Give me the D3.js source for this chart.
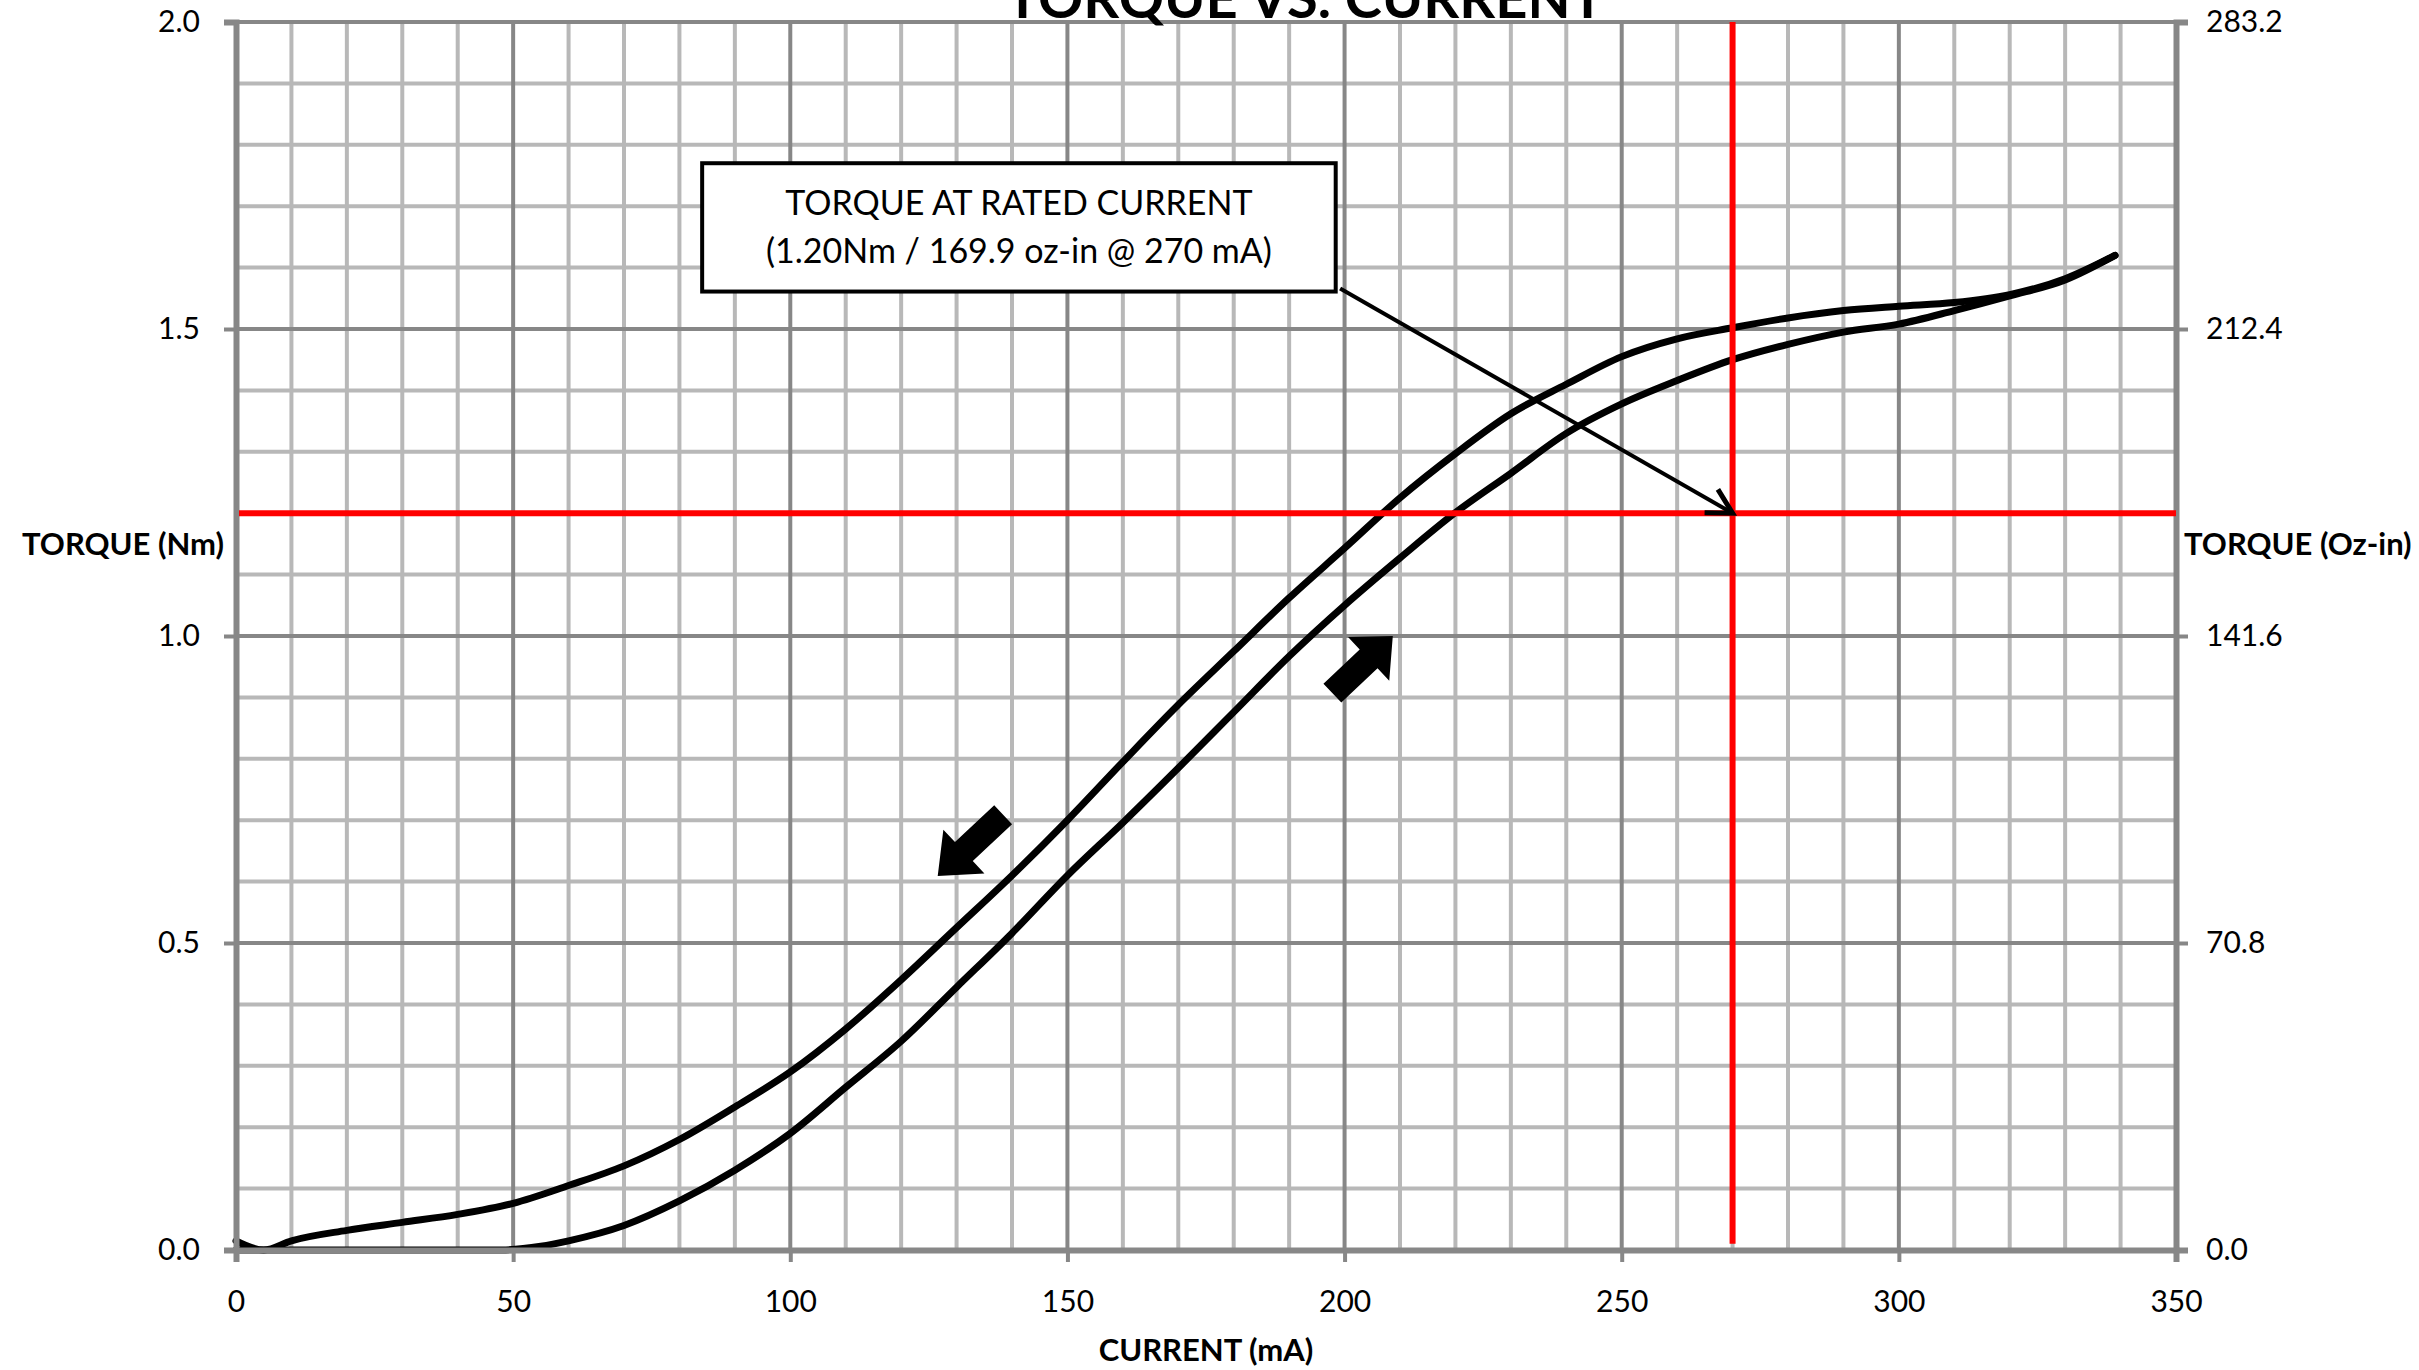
<!DOCTYPE html>
<html>
<head>
<meta charset="utf-8">
<script src="https://cdn.jsdelivr.net/npm/d3@7"></script>
<style>
  body { margin: 0; background: #fff; }
  svg { display: block; font-family: Lato, "Open Sans", sans-serif; }
</style>
</head>
<body>
<svg width="2419" height="1370"></svg>
<script>
// current (mA) and torque (Nm)
var riseCurrent = [0, 10, 20, 30, 40, 48, 55, 60, 70, 80, 90, 100, 110, 120, 130, 140, 150, 160, 170, 180, 190, 200, 210, 220, 230, 240, 250, 260, 270, 280, 290, 300, 310, 320, 330, 339];
var riseTorque  = [0, 0, 0, 0, 0, 0, 0.006, 0.015, 0.04, 0.08, 0.13, 0.19, 0.265, 0.34, 0.428, 0.516, 0.61, 0.696, 0.785, 0.876, 0.967, 1.05, 1.127, 1.201, 1.265, 1.33, 1.378, 1.416, 1.45, 1.475, 1.495, 1.508, 1.53, 1.554, 1.58, 1.62];

var fallCurrent = [0, 5, 10, 20, 30, 40, 50, 60, 70, 80, 90, 100, 110, 120, 130, 140, 150, 160, 170, 180, 190, 200, 210, 220, 230, 240, 250, 260, 270, 280, 290, 300, 310, 320, 330, 339];
var fallTorque  = [0.015, 0, 0.015, 0.032, 0.045, 0.058, 0.076, 0.105, 0.137, 0.18, 0.233, 0.29, 0.36, 0.44, 0.525, 0.61, 0.70, 0.795, 0.888, 0.975, 1.062, 1.143, 1.225, 1.297, 1.362, 1.41, 1.455, 1.484, 1.502, 1.518, 1.53, 1.537, 1.543, 1.556, 1.582, 1.62];

var xTicks = [0, 50, 100, 150, 200, 250, 300, 350];
var yTicks = [0, 0.5, 1.0, 1.5, 2.0];
var ozTicks = [0, 70.8, 141.6, 212.4, 283.2];

var ratedCurrent = 270;
var ratedTorque = 1.2;

// annotation box corners [mA, Nm] and its text
var noteBox = [[84.1, 1.770], [198.4, 1.561]];
var noteLines = ['TORQUE AT RATED CURRENT', '(1.20Nm / 169.9 oz-in @ 270 mA)'];
var noteArrow = [[199.2, 1.566], [270, 1.2]];

// direction arrows: [tail, tip] in [mA, Nm]
var bigArrows = [
  [[197.8, 0.907], [208.7, 1.0]],
  [[138.4, 0.709], [126.6, 0.609]]
];

var svg = d3.select('svg');

var x = d3.scaleLinear().domain([0, 350]).range([236, 2176]);
var y = d3.scaleLinear().domain([0, 2]).range([1250, 22]);
var yOz = d3.scaleLinear().domain([0, 283.2]).range([1250, 22]);

var minorX = d3.range(10, 350, 10).filter(function(d) { return d % 50 != 0; });
var minorY = d3.range(1, 20).map(function(d) { return d / 10; }).filter(function(d) { return Math.round(d * 10) % 5 != 0; });

var grid = svg.append('g');
grid.selectAll('.hmin').data(minorY).enter().append('line')
  .attr('x1', x(0)).attr('x2', x(350))
  .attr('y1', d => y(d)).attr('y2', d => y(d))
  .attr('stroke', '#b8b8b8').attr('stroke-width', 4);
grid.selectAll('.vmin').data(minorX).enter().append('line')
  .attr('x1', d => x(d)).attr('x2', d => x(d))
  .attr('y1', y(0)).attr('y2', y(2))
  .attr('stroke', '#b8b8b8').attr('stroke-width', 4);
grid.selectAll('.hmaj').data(yTicks.slice(1)).enter().append('line')
  .attr('x1', x(0)).attr('x2', x(350))
  .attr('y1', d => y(d)).attr('y2', d => y(d))
  .attr('stroke', '#878787').attr('stroke-width', 4);
grid.selectAll('.vmaj').data(xTicks.slice(1)).enter().append('line')
  .attr('x1', d => x(d)).attr('x2', d => x(d))
  .attr('y1', y(0)).attr('y2', y(2))
  .attr('stroke', '#878787').attr('stroke-width', 4);

// data curves (under the axis lines, so the zero run hides behind the x axis)
var line = d3.line().x(d => x(d[0])).y(d => y(d[1])).curve(d3.curveMonotoneX);
var rise = d3.zip(riseCurrent, riseTorque);
var fall = d3.zip(fallCurrent, fallTorque);
svg.append('path').datum(rise).attr('d', line)
  .attr('fill', 'none').attr('stroke', '#000').attr('stroke-width', 7).attr('stroke-linejoin', 'round').attr('stroke-linecap', 'round');
svg.append('path').datum(fall).attr('d', line)
  .attr('fill', 'none').attr('stroke', '#000').attr('stroke-width', 7).attr('stroke-linejoin', 'round').attr('stroke-linecap', 'round');

// axes
var fmt = d3.format('.1f');
var gx = svg.append('g').attr('transform', 'translate(0,' + y(0) + ')')
  .call(d3.axisBottom(x).tickValues(xTicks).tickSize(12).tickPadding(29));
var gy = svg.append('g').attr('transform', 'translate(' + x(0) + ',0)')
  .call(d3.axisLeft(y).tickValues(yTicks).tickFormat(fmt).tickSize(12).tickPadding(24));
var gy2 = svg.append('g').attr('transform', 'translate(' + x(350) + ',0)')
  .call(d3.axisRight(yOz).tickValues(ozTicks).tickFormat(fmt).tickSize(12).tickPadding(18));

[gx, gy, gy2].forEach(function(g) {
  g.select('.domain').attr('stroke', '#878787').attr('stroke-width', 6);
  g.selectAll('.tick line').attr('stroke', '#878787').attr('stroke-width', 4);
  g.selectAll('.tick text').attr('fill', '#000').style('font-size', '30px').style('font-family', 'Lato, sans-serif');
});

// rated current / torque markers
svg.append('line')
  .attr('x1', x(0) + 3).attr('x2', x(350))
  .attr('y1', y(ratedTorque)).attr('y2', y(ratedTorque))
  .attr('stroke', '#ff0000').attr('stroke-width', 6);
svg.append('line')
  .attr('x1', x(ratedCurrent)).attr('x2', x(ratedCurrent))
  .attr('y1', y(2)).attr('y2', y(0.01))
  .attr('stroke', '#ff0000').attr('stroke-width', 6);

// annotation box
var bx = x(noteBox[0][0]), by = y(noteBox[0][1]);
var bw = x(noteBox[1][0]) - bx, bh = y(noteBox[1][1]) - by;
svg.append('rect').attr('x', bx).attr('y', by).attr('width', bw).attr('height', bh)
  .attr('fill', '#fff').attr('stroke', '#000').attr('stroke-width', 4);
svg.selectAll('.note').data(noteLines).enter().append('text')
  .attr('x', bx + bw / 2).attr('y', (d, i) => by + 52 + i * 48)
  .attr('text-anchor', 'middle').style('font-size', '34px').text(d => d);

// arrow from the box to the rated point
var ax1 = x(noteArrow[0][0]), ay1 = y(noteArrow[0][1]);
var ax2 = x(noteArrow[1][0]), ay2 = y(noteArrow[1][1]);
var ang = Math.atan2(ay2 - ay1, ax2 - ax1);
svg.append('line').attr('x1', ax1).attr('y1', ay1).attr('x2', ax2).attr('y2', ay2)
  .attr('stroke', '#000').attr('stroke-width', 4);
var hl = 28, ha = 0.5;
svg.append('path')
  .attr('d', 'M' + (ax2 - hl * Math.cos(ang - ha)) + ',' + (ay2 - hl * Math.sin(ang - ha)) +
    'L' + ax2 + ',' + ay2 +
    'L' + (ax2 - hl * Math.cos(ang + ha)) + ',' + (ay2 - hl * Math.sin(ang + ha)))
  .attr('fill', 'none').attr('stroke', '#000').attr('stroke-width', 5).attr('stroke-linejoin', 'miter');

// block arrows showing direction of travel
bigArrows.forEach(function(a) {
  var tx = x(a[0][0]), ty = y(a[0][1]), px = x(a[1][0]), py = y(a[1][1]);
  var len = Math.hypot(px - tx, py - ty);
  var deg = Math.atan2(py - ty, px - tx) * 180 / Math.PI;
  var hLen = len * 0.4, sw = 13, hw = 30;
  var pts = [[0, -sw], [len - hLen, -sw], [len - hLen, -hw], [len, 0], [len - hLen, hw], [len - hLen, sw], [0, sw]];
  svg.append('polygon')
    .attr('points', pts.map(p => p.join(',')).join(' '))
    .attr('transform', 'translate(' + tx + ',' + ty + ') rotate(' + deg + ')')
    .attr('fill', '#000');
});

// titles
svg.append('text').attr('x', 1305).attr('y', 18).attr('text-anchor', 'middle')
  .style('font-size', '56px').style('font-weight', 'bold').text('TORQUE VS. CURRENT');
svg.append('text').attr('x', (x(0) + x(350)) / 2).attr('y', 1361).attr('text-anchor', 'middle')
  .style('font-size', '31px').style('font-weight', 'bold').text('CURRENT (mA)');
svg.append('text').attr('x', 22).attr('y', 555)
  .style('font-size', '31px').style('font-weight', 'bold').text('TORQUE (Nm)');
svg.append('text').attr('x', 2184).attr('y', 555)
  .style('font-size', '31px').style('font-weight', 'bold').text('TORQUE (Oz-in)');
</script>
</body>
</html>
